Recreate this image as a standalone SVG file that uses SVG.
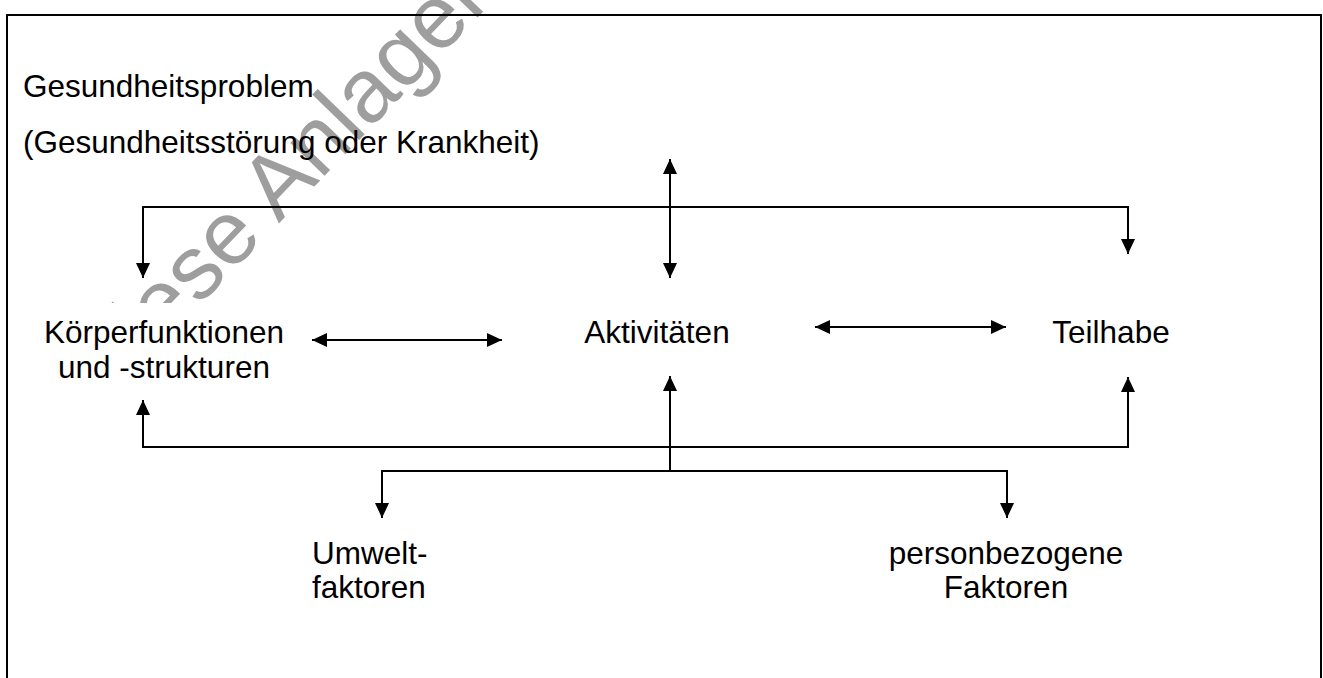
<svg xmlns="http://www.w3.org/2000/svg" width="1323" height="678" viewBox="0 0 1323 678">
<style>
text { font-family: "Liberation Sans", Arial, sans-serif; font-size: 31.5px; fill: #000; }
.c { text-anchor: middle; }
.wm { font-size: 90px; fill: #9e9e9e; }
.ln { fill: none; stroke: #000; stroke-width: 2; }
</style>
<defs>
<marker id="ah" markerUnits="userSpaceOnUse" markerWidth="16" markerHeight="14" refX="15" refY="7" orient="auto-start-reverse">
<path d="M0,0 L15,7 L0,14 z" fill="#000"/>
</marker>
<clipPath id="wmclip"><rect x="0" y="0" width="1323" height="303"/></clipPath>
</defs>
<rect x="0" y="0" width="1323" height="678" fill="#fff"/>
<g id="watermark" clip-path="url(#wmclip)">
<text class="wm" transform="translate(282,220) rotate(-46)" x="-190" y="0">iese Anlagen</text>
</g>
<rect id="frame" x="7" y="15" width="1314" height="700" fill="none" stroke="#000" stroke-width="2"/>
<g id="gesundheitsproblem">
<text x="23" y="97">Gesundheitsproblem</text>
<text x="23" y="153">(Gesundheitsstörung oder Krankheit)</text>
</g>
<g id="koerperfunktionen">
<text class="c" x="164" y="343">Körperfunktionen</text>
<text class="c" x="164" y="378">und -strukturen</text>
</g>
<g id="aktivitaeten">
<text class="c" x="657" y="343">Aktivitäten</text>
</g>
<g id="teilhabe">
<text class="c" x="1111" y="343">Teilhabe</text>
</g>
<g id="umweltfaktoren">
<text x="312" y="564">Umwelt-</text>
<text x="312" y="598">faktoren</text>
</g>
<g id="personbezogene">
<text class="c" x="1006" y="564">personbezogene</text>
<text class="c" x="1006" y="598">Faktoren</text>
</g>
<g id="connectors">
<path class="ln" d="M143,278 V207 H1128 V254" marker-start="url(#ah)" marker-end="url(#ah)"/>
<path class="ln" d="M670,159 V278" marker-start="url(#ah)" marker-end="url(#ah)"/>
<path class="ln" d="M312,340 H502" marker-start="url(#ah)" marker-end="url(#ah)"/>
<path class="ln" d="M815,327 H1006" marker-start="url(#ah)" marker-end="url(#ah)"/>
<path class="ln" d="M143,400 V447 H1128 V377" marker-start="url(#ah)" marker-end="url(#ah)"/>
<path class="ln" d="M670,471 V376" marker-end="url(#ah)"/>
<path class="ln" d="M382,518 V471 H1007 V518" marker-start="url(#ah)" marker-end="url(#ah)"/>
</g>
</svg>
